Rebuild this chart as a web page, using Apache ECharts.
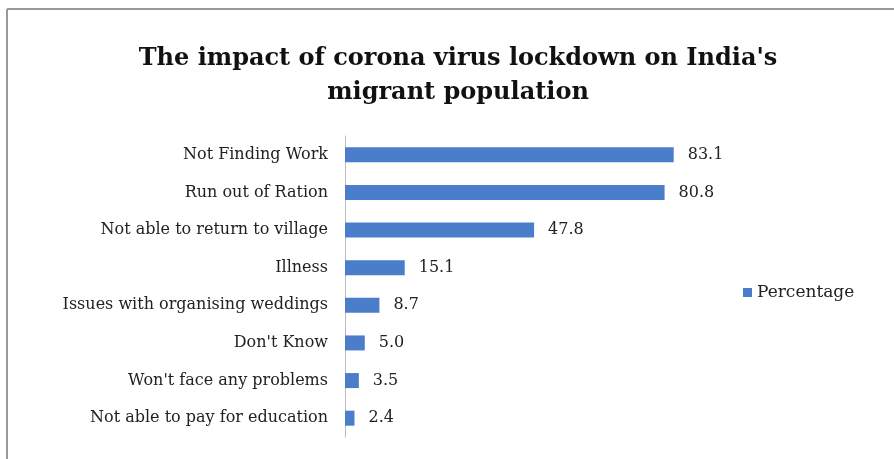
<!DOCTYPE html>
<html>
<head>
<meta charset="utf-8">
<script src="https://cdn.jsdelivr.net/npm/echarts@6/dist/echarts.min.js"></script>
<style>
  html, body { margin: 0; padding: 0; background: #fff; }
  #chart { width: 894px; height: 459px; }
</style>
</head>
<body>
<div id="chart"></div>
<script>
// data
var categories = [
  'Not Finding Work',
  'Run out of Ration',
  'Not able to return to village',
  'Illness',
  'Issues with organising weddings',
  "Don't Know",
  "Won't face any problems",
  'Not able to pay for education'
];
var percentage = [83.1, 80.8, 47.8, 15.1, 8.7, 5.0, 3.5, 2.4];

var font = 'DejaVu Serif';
var myChart = echarts.init(document.getElementById('chart'));

var option = {
  backgroundColor: '#fff',
  title: {
    text: "The impact of corona virus lockdown on India's\nmigrant population",
    left: 453,
    top: 37,
    textAlign: 'center',
    textStyle: {
      fontFamily: font,
      fontWeight: 'bold',
      fontSize: 24,
      lineHeight: 34,
      color: '#111'
    }
  },
  graphic: [
    { type: 'line', shape: { x1: 7, y1: 9, x2: 894, y2: 9 }, style: { stroke: '#999', lineWidth: 2 } },
    { type: 'line', shape: { x1: 7, y1: 9, x2: 7, y2: 459 }, style: { stroke: '#999', lineWidth: 2 } }
  ],
  legend: {
    left: 738,
    top: 279,
    itemWidth: 9,
    itemHeight: 9,
    itemGap: 5,
    icon: 'rect',
    textStyle: { fontFamily: font, fontSize: 17, color: '#222' },
    data: ['Percentage']
  },
  grid: {
    left: 345,
    top: 136,
    width: 356,
    height: 301
  },
  xAxis: {
    type: 'value',
    min: 0,
    max: 90,
    show: false
  },
  yAxis: {
    type: 'category',
    data: categories,
    inverse: true,
    axisTick: { show: false },
    axisLine: { lineStyle: { color: '#bbb', width: 1 } },
    axisLabel: {
      margin: 17,
      fontFamily: font,
      fontSize: 16,
      color: '#222'
    }
  },
  series: [{
    name: 'Percentage',
    type: 'bar',
    data: percentage,
    barWidth: 15,
    itemStyle: { color: '#4a7ecb' },
    label: {
      show: true,
      position: 'right',
      distance: 14,
      formatter: function (p) { return p.value.toFixed(1); },
      fontFamily: font,
      fontSize: 16,
      color: '#222'
    }
  }]
};
myChart.setOption(option);
</script>
</body>
</html>
